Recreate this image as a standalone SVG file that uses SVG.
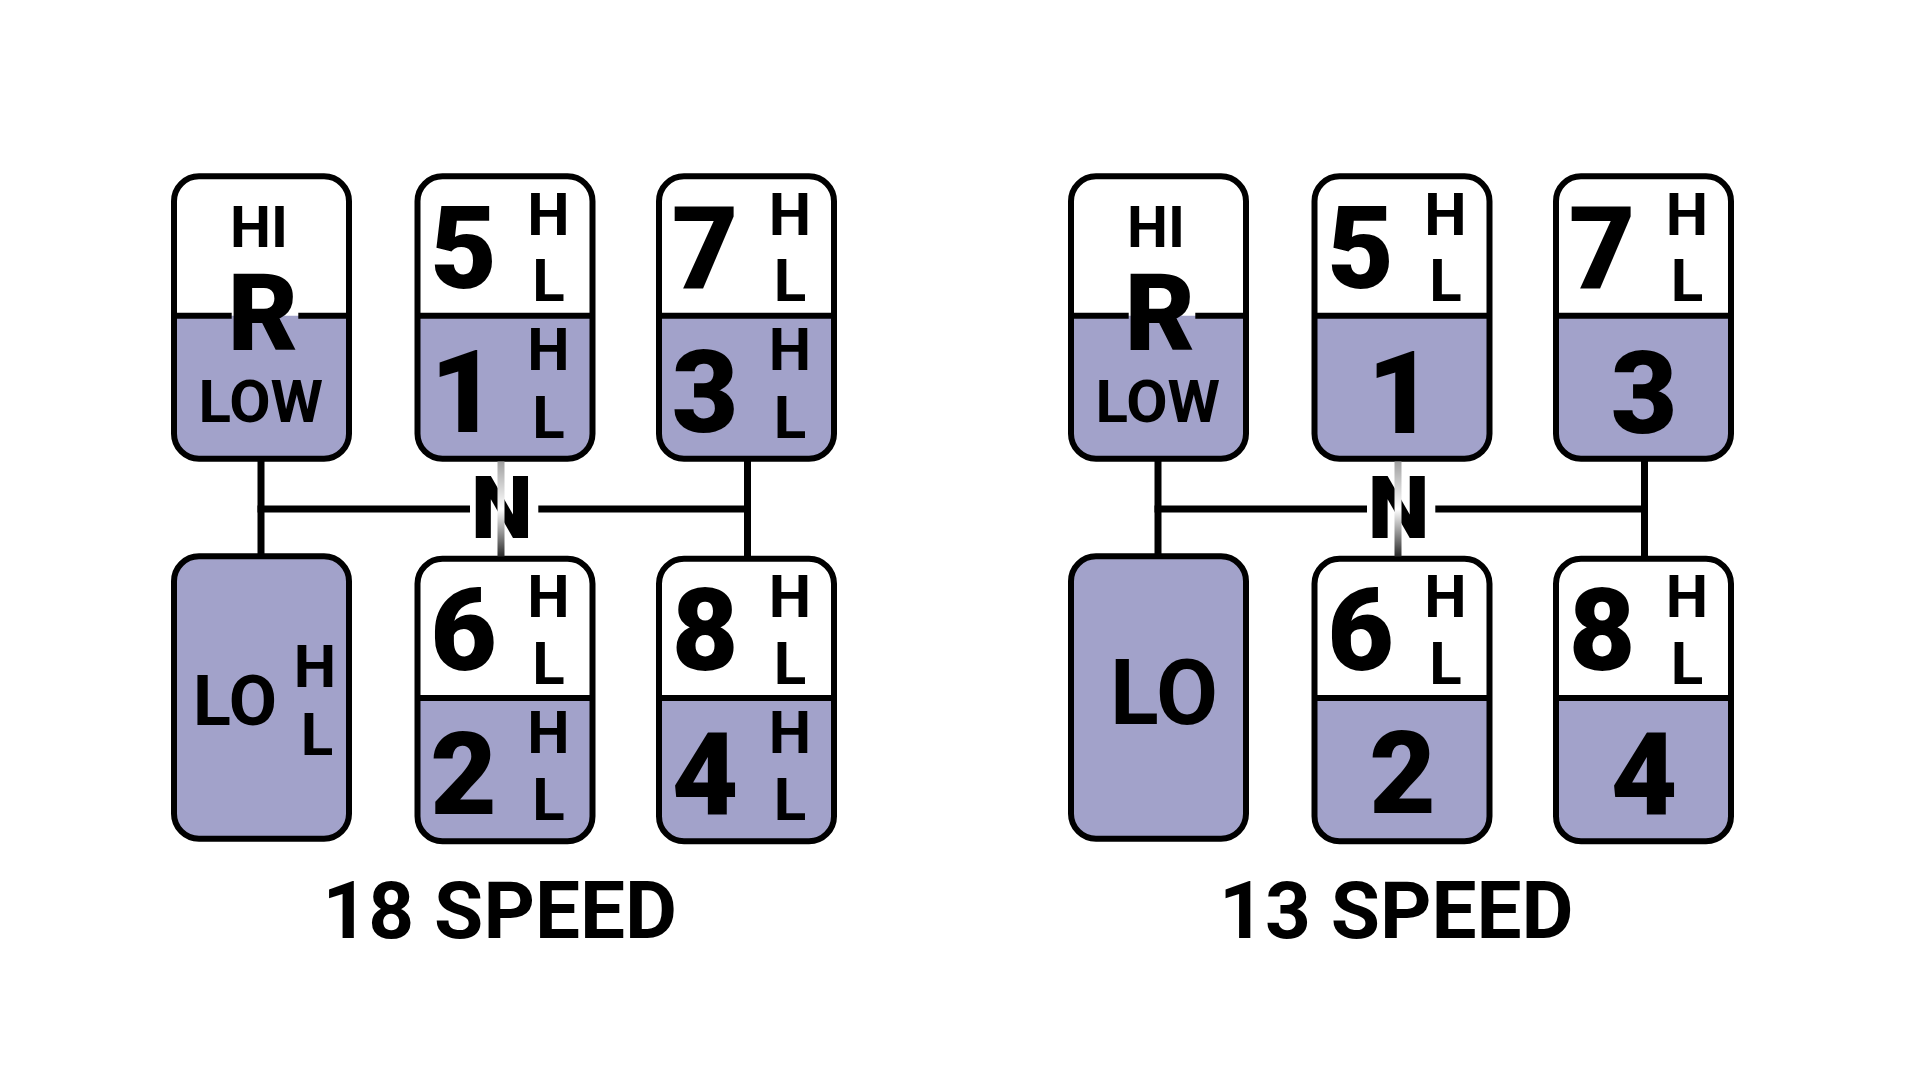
<svg xmlns="http://www.w3.org/2000/svg" xmlns:xlink="http://www.w3.org/1999/xlink" width="1920" height="1080" viewBox="0 0 1920 1080">
<style>
.bg{fill:#fff}
.white{fill:#fff}
.lav{fill:#a2a2ca}
.frame{fill:none;stroke:#000;stroke-width:6}
.div{stroke:#000;stroke-width:6}
.conn{stroke:#000;stroke-width:7;fill:none}
text{font-family:Roboto,"Liberation Sans",sans-serif;fill:#000;text-anchor:middle}
.dg{font-weight:900;font-size:115px}
.hl{font-weight:700;font-size:60px}
.hi{font-weight:700;font-size:58px}
.low{font-weight:700;font-size:60px}
.r{font-weight:900;font-size:108px}
.n{font-weight:900;font-size:88px}
.lo{font-weight:700;font-size:70px}
.lo13{font-weight:700;font-size:90px}
.title{font-weight:700;font-size:80px}
</style>
<defs>
<rect id="frameShape" x="0" y="0" width="175" height="282.5" rx="25" ry="25"/>
<path id="lowerShape" d="M0,139.4 H175 V257.5 A25,25 0 0 1 150,282.5 H25 A25,25 0 0 1 0,257.5 Z"/>
<linearGradient id="ngrad" x1="0" y1="0" x2="0" y2="1">
<stop offset="0" stop-color="#a0a0a0"/>
<stop offset="0.5" stop-color="#ffffff"/>
<stop offset="1" stop-color="#2a2a2a"/>
</linearGradient>
</defs>
<rect class="bg" x="0" y="0" width="1920" height="1080"/>

<!-- 18 SPEED -->
<g id="s18-r" transform="translate(174,176.3)">
<use xlink:href="#frameShape" class="white"/>
<use xlink:href="#lowerShape" class="lav"/>
<use xlink:href="#frameShape" class="frame"/>
<line x1="0" y1="139.4" x2="57.7" y2="139.4" class="div"/>
<line x1="124.3" y1="139.4" x2="175" y2="139.4" class="div"/>
<text class="hi" x="85" y="70.4">HI</text>
<text class="r" x="89" y="173.7">R</text>
<text class="low" x="86.8" y="245.4">LOW</text>
</g>
<g id="s18-5-1" transform="translate(417.5,176.3)">
<use xlink:href="#frameShape" class="white"/>
<use xlink:href="#lowerShape" class="lav"/>
<use xlink:href="#frameShape" class="frame"/>
<line x1="0" y1="139.4" x2="175" y2="139.4" class="div"/>
<text class="dg" x="46" y="111.5">5</text>
<text class="hl" x="131" y="58.5">H</text>
<text class="hl" x="131" y="125">L</text>
<text class="dg" x="46" y="255.5">1</text>
<text class="hl" x="131" y="194">H</text>
<text class="hl" x="131" y="261.5">L</text>
</g>
<g id="s18-7-3" transform="translate(659,176.3)">
<use xlink:href="#frameShape" class="white"/>
<use xlink:href="#lowerShape" class="lav"/>
<use xlink:href="#frameShape" class="frame"/>
<line x1="0" y1="139.4" x2="175" y2="139.4" class="div"/>
<text class="dg" x="46" y="111.5">7</text>
<text class="hl" x="131" y="58.5">H</text>
<text class="hl" x="131" y="125">L</text>
<text class="dg" x="46" y="255.5">3</text>
<text class="hl" x="131" y="194">H</text>
<text class="hl" x="131" y="261.5">L</text>
</g>
<g id="s18-lo" transform="translate(174,556.3)">
<use xlink:href="#frameShape" class="lav"/>
<use xlink:href="#frameShape" class="frame"/>
<text class="lo" x="61" y="168.7">LO</text>
<text class="hl" x="141" y="130.4">H</text>
<text class="hl" x="143" y="198.7">L</text>
</g>
<g id="s18-6-2" transform="translate(417.5,558.7)">
<use xlink:href="#frameShape" class="white"/>
<use xlink:href="#lowerShape" class="lav"/>
<use xlink:href="#frameShape" class="frame"/>
<line x1="0" y1="139.4" x2="175" y2="139.4" class="div"/>
<text class="dg" x="46" y="111.5">6</text>
<text class="hl" x="131" y="58.5">H</text>
<text class="hl" x="131" y="125">L</text>
<text class="dg" x="46" y="255.5">2</text>
<text class="hl" x="131" y="194">H</text>
<text class="hl" x="131" y="261.5">L</text>
</g>
<g id="s18-8-4" transform="translate(659,558.7)">
<use xlink:href="#frameShape" class="white"/>
<use xlink:href="#lowerShape" class="lav"/>
<use xlink:href="#frameShape" class="frame"/>
<line x1="0" y1="139.4" x2="175" y2="139.4" class="div"/>
<text class="dg" x="46" y="111.5">8</text>
<text class="hl" x="131" y="58.5">H</text>
<text class="hl" x="131" y="125">L</text>
<text class="dg" x="46" y="255.5">4</text>
<text class="hl" x="131" y="194">H</text>
<text class="hl" x="131" y="261.5">L</text>
</g>
<g id="s18-n"><text class="n" x="502" y="538.3">N</text></g>
<g id="s18-title"><text class="title" x="499.7" y="938.3">18 SPEED</text></g>

<!-- 13 SPEED -->
<g id="s13-r" transform="translate(1071,176.3)">
<use xlink:href="#frameShape" class="white"/>
<use xlink:href="#lowerShape" class="lav"/>
<use xlink:href="#frameShape" class="frame"/>
<line x1="0" y1="139.4" x2="57.7" y2="139.4" class="div"/>
<line x1="124.3" y1="139.4" x2="175" y2="139.4" class="div"/>
<text class="hi" x="85" y="70.4">HI</text>
<text class="r" x="89" y="173.7">R</text>
<text class="low" x="86.8" y="245.4">LOW</text>
</g>
<g id="s13-5-1" transform="translate(1314.5,176.3)">
<use xlink:href="#frameShape" class="white"/>
<use xlink:href="#lowerShape" class="lav"/>
<use xlink:href="#frameShape" class="frame"/>
<line x1="0" y1="139.4" x2="175" y2="139.4" class="div"/>
<text class="dg" x="46" y="111.5">5</text>
<text class="hl" x="131" y="58.5">H</text>
<text class="hl" x="131" y="125">L</text>
<text class="dg" x="86" y="256.5">1</text>
</g>
<g id="s13-7-3" transform="translate(1556,176.3)">
<use xlink:href="#frameShape" class="white"/>
<use xlink:href="#lowerShape" class="lav"/>
<use xlink:href="#frameShape" class="frame"/>
<line x1="0" y1="139.4" x2="175" y2="139.4" class="div"/>
<text class="dg" x="46" y="111.5">7</text>
<text class="hl" x="131" y="58.5">H</text>
<text class="hl" x="131" y="125">L</text>
<text class="dg" x="88" y="256.5">3</text>
</g>
<g id="s13-lo" transform="translate(1071,556.3)">
<use xlink:href="#frameShape" class="lav"/>
<use xlink:href="#frameShape" class="frame"/>
<text class="lo13" x="93" y="167.7">LO</text>
</g>
<g id="s13-6-2" transform="translate(1314.5,558.7)">
<use xlink:href="#frameShape" class="white"/>
<use xlink:href="#lowerShape" class="lav"/>
<use xlink:href="#frameShape" class="frame"/>
<line x1="0" y1="139.4" x2="175" y2="139.4" class="div"/>
<text class="dg" x="46" y="111.5">6</text>
<text class="hl" x="131" y="58.5">H</text>
<text class="hl" x="131" y="125">L</text>
<text class="dg" x="88" y="254.5">2</text>
</g>
<g id="s13-8-4" transform="translate(1556,558.7)">
<use xlink:href="#frameShape" class="white"/>
<use xlink:href="#lowerShape" class="lav"/>
<use xlink:href="#frameShape" class="frame"/>
<line x1="0" y1="139.4" x2="175" y2="139.4" class="div"/>
<text class="dg" x="46" y="111.5">8</text>
<text class="hl" x="131" y="58.5">H</text>
<text class="hl" x="131" y="125">L</text>
<text class="dg" x="88" y="255.5">4</text>
</g>
<g id="s13-n"><text class="n" x="1398.7" y="538.3">N</text></g>
<g id="s13-title"><text class="title" x="1396.3" y="938.3">13 SPEED</text></g>

<!-- connectors -->
<g id="connectors">
<line class="conn" x1="261" y1="461" x2="261" y2="554"/>
<line class="conn" x1="747.5" y1="461" x2="747.5" y2="556"/>
<line class="conn" x1="257.5" y1="509" x2="470" y2="509"/>
<line class="conn" x1="538.3" y1="509" x2="747.5" y2="509"/>
<rect x="497.5" y="461.5" width="7" height="95" fill="url(#ngrad)"/>
<line class="conn" x1="1158" y1="461" x2="1158" y2="554"/>
<line class="conn" x1="1644.5" y1="461" x2="1644.5" y2="556"/>
<line class="conn" x1="1154.5" y1="509" x2="1367" y2="509"/>
<line class="conn" x1="1435.3" y1="509" x2="1644.5" y2="509"/>
<rect x="1394.5" y="461.5" width="7" height="95" fill="url(#ngrad)"/>
</g>
</svg>
